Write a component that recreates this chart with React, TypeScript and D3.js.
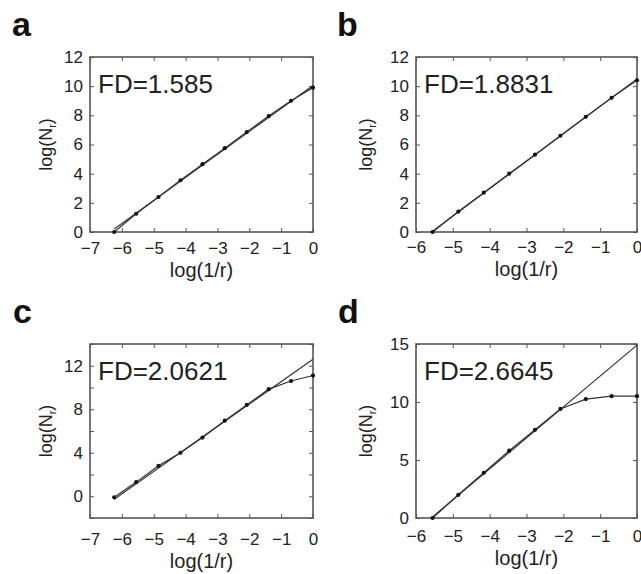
import React, { useEffect, useRef } from 'react'
import * as d3 from 'd3'

// box-counting points, x = log(1/r), y = log(N_r)
const xA = [-6.24, -5.55, -4.85, -4.16, -3.47, -2.77, -2.08, -1.39, -0.69, 0]
const yA = [0, 1.25, 2.4, 3.55, 4.65, 5.75, 6.85, 7.95, 9.0, 9.9]
const xB = [-5.55, -4.85, -4.16, -3.47, -2.77, -2.08, -1.39, -0.69, 0]
const yB = [0, 1.4, 2.7, 4.0, 5.3, 6.6, 7.9, 9.2, 10.4]
const xC = [-6.24, -5.55, -4.85, -4.16, -3.47, -2.77, -2.08, -1.39, -0.69, 0]
const yC = [-0.1, 1.3, 2.8, 4.0, 5.4, 6.95, 8.4, 9.85, 10.6, 11.1]
const xD = [-5.55, -4.85, -4.16, -3.47, -2.77, -2.08, -1.39, -0.69, 0]
const yD = [0, 2.0, 3.9, 5.8, 7.6, 9.4, 10.25, 10.5, 10.5]

// fitted lines (end points)
const fitA = [[-6.24, 0.2], [0, 10.05]]
const fitB = [[-5.55, 0.05], [0, 10.5]]
const fitC = [[-6.24, -0.27], [0, 12.6]]
const fitD = [[-5.55, 0.1], [0, 14.9]]

const fdLabels = ['FD=1.585', 'FD=1.8831', 'FD=2.0621', 'FD=2.6645']
const panelLetters = ['a', 'b', 'c', 'd']

const xTicks7 = [-7, -6, -5, -4, -3, -2, -1, 0]
const xTicks6 = [-6, -5, -4, -3, -2, -1, 0]
const yTicksAB = [0, 2, 4, 6, 8, 10, 12]
const yTicksC = [-2, 0, 2, 4, 6, 8, 10, 12, 14]
const yLabelsC = [0, 4, 8, 12]
const yTicksD = [0, 5, 10, 15]

const FONT = '"Liberation Sans", Arial, Helvetica, sans-serif'
const INK = '#222'
const AXIS = '#555'

const panels = [
  { xs: xA, ys: yA, fit: fitA, xTicks: xTicks7, xDomain: [-7, 0], yTicks: yTicksAB, yLabels: yTicksAB, yDomain: [0, 12],
    left: 90, right: 313, top: 57, bottom: 232, letterX: 12, xPad: 22, xLab: 45, yLabX: 46 },
  { xs: xB, ys: yB, fit: fitB, xTicks: xTicks6, xDomain: [-6, 0], yTicks: yTicksAB, yLabels: yTicksAB, yDomain: [0, 12],
    left: 416, right: 637, top: 57, bottom: 232, letterX: 337, xPad: 21, xLab: 44, yLabX: 366 },
  { xs: xC, ys: yC, fit: fitC, xTicks: xTicks7, xDomain: [-7, 0], yTicks: yTicksC, yLabels: yLabelsC, yDomain: [-2, 14],
    left: 90, right: 313, top: 344, bottom: 518, letterX: 13, xPad: 27, xLab: 50, yLabX: 46 },
  { xs: xD, ys: yD, fit: fitD, xTicks: xTicks6, xDomain: [-6, 0], yTicks: yTicksD, yLabels: yTicksD, yDomain: [0, 15],
    left: 416, right: 637, top: 344, bottom: 518, letterX: 338, xPad: 24, xLab: 47, yLabX: 366 },
]

const fmt = (v: number) => (v < 0 ? '\u2212' + Math.abs(v) : String(v))

export default function App() {
  const ref = useRef<SVGSVGElement>(null)

  useEffect(() => {
    const svg = d3.select(ref.current)
    svg.selectAll('*').remove()

    panels.forEach((p, i) => {
      const x = d3.scaleLinear().domain(p.xDomain).range([p.left, p.right])
      const y = d3.scaleLinear().domain(p.yDomain).range([p.bottom, p.top])
      const g = svg.append('g')

      // ticks on all four sides, pointing in
      g.append('g')
        .attr('transform', `translate(0,${p.bottom})`)
        .call(d3.axisBottom(x).tickValues(p.xTicks).tickSize(-4).tickSizeOuter(0).tickPadding(p.xPad - 12).tickFormat(d => fmt(+d)))
      g.append('g')
        .attr('transform', `translate(0,${p.top})`)
        .call(d3.axisTop(x).tickValues(p.xTicks).tickSize(-4).tickSizeOuter(0).tickFormat(() => ''))
      g.append('g')
        .attr('transform', `translate(${p.left},0)`)
        .call(d3.axisLeft(y).tickValues(p.yTicks).tickSize(-4).tickSizeOuter(0).tickPadding(7)
          .tickFormat(d => (p.yLabels.includes(+d) ? fmt(+d) : '')))
      g.append('g')
        .attr('transform', `translate(${p.right},0)`)
        .call(d3.axisRight(y).tickValues(p.yTicks).tickSize(-4).tickSizeOuter(0).tickFormat(() => ''))

      g.selectAll('.domain').remove()
      g.selectAll('.tick line').attr('stroke', AXIS).attr('stroke-width', 1)
      g.selectAll('.tick text').attr('fill', INK).attr('font-size', 17).attr('font-family', FONT)

      g.append('rect')
        .attr('x', p.left).attr('y', p.top)
        .attr('width', p.right - p.left).attr('height', p.bottom - p.top)
        .attr('fill', 'none').attr('stroke', AXIS).attr('stroke-width', 1.6)

      // fitted line
      g.append('path')
        .attr('d', d3.line().x(d => x(d[0])).y(d => y(d[1]))(p.fit as [number, number][]))
        .attr('fill', 'none').attr('stroke', '#333').attr('stroke-width', 1.2)

      // data
      const pts = p.xs.map((v, k) => [v, p.ys[k]] as [number, number])
      g.append('path')
        .attr('d', d3.line().x(d => x(d[0])).y(d => y(d[1]))(pts))
        .attr('fill', 'none').attr('stroke', '#333').attr('stroke-width', 1.2)
      g.selectAll('circle.pt').data(pts).join('circle')
        .attr('class', 'pt')
        .attr('cx', d => x(d[0])).attr('cy', d => y(d[1]))
        .attr('r', 2.1).attr('fill', '#111')

      g.append('text')
        .attr('x', p.left + 8).attr('y', p.top + 36)
        .attr('font-size', 26).attr('font-family', FONT).attr('fill', INK)
        .text(fdLabels[i])

      g.append('text')
        .attr('x', (p.left + p.right) / 2).attr('y', p.bottom + p.xLab)
        .attr('text-anchor', 'middle')
        .attr('font-size', 20).attr('font-family', FONT).attr('fill', INK)
        .text('log(1/r)')

      const yl = g.append('text')
        .attr('transform', `translate(${p.yLabX + 6},${(p.top + p.bottom) / 2}) rotate(-90)`)
        .attr('text-anchor', 'middle')
        .attr('font-size', 18).attr('font-family', FONT).attr('fill', INK)
      yl.append('tspan').text('log(N')
      yl.append('tspan').attr('font-size', 11).attr('dy', 4).text('r')
      yl.append('tspan').attr('dy', -4).text(')')

      g.append('text')
        .attr('x', p.letterX).attr('y', p.top - 21)
        .attr('font-size', 34).attr('font-weight', 'bold').attr('font-family', FONT).attr('fill', '#111')
        .text(panelLetters[i])
    })
  }, [])

  return (
    <svg ref={ref} width={641} height={574}
      style={{ position: 'absolute', left: 0, top: 0, background: '#fff' }} />
  )
}
